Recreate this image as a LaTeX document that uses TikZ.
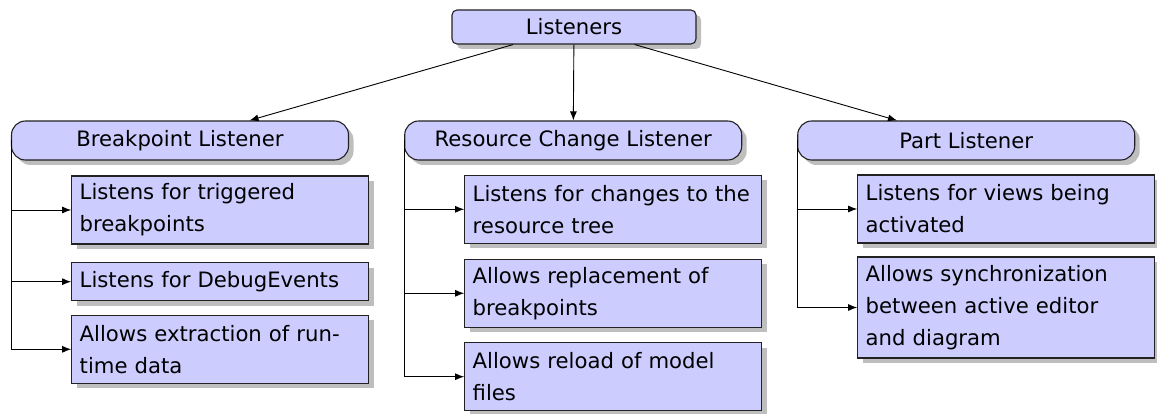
\documentclass[tikz,border=0pt]{standalone}
\usepackage{fontspec}
\setmainfont{DejaVu Sans}
\usetikzlibrary{shadows,arrows.meta}
\definecolor{boxfill}{HTML}{CCCCFF}
\definecolor{shadowgray}{HTML}{BEBEBE}
\definecolor{edgegray}{HTML}{222222}
\tikzset{
  boxshadow/.style={drop shadow={shadow xshift=5pt,shadow yshift=-5pt,fill=shadowgray,opacity=1}},
  boxtext/.style={font=\fontsize{21.2pt}{32pt}\selectfont},
  rootbox/.style={draw=edgegray,fill=boxfill,line width=1.1pt,rounded corners=5pt,boxshadow,
    minimum width=244pt,minimum height=34pt,inner sep=0pt,boxtext},
  groupbox/.style={draw=edgegray,fill=boxfill,line width=1.1pt,rounded corners=14pt,boxshadow,
    minimum width=337pt,minimum height=39pt,inner sep=0pt,boxtext},
  itembox/.style={draw=edgegray,fill=boxfill,line width=1.1pt,boxshadow,
    text width=281pt,inner xsep=8pt,inner ysep=0pt,align=left,boxtext},
  link/.style={-{Latex[length=9pt,width=7pt]},line width=0.9pt,black}
}
\begin{document}
\begin{tikzpicture}[x=1pt,y=-1pt]
\useasboundingbox (0,0) rectangle (1157,414);

% root and the three listener groups
\node[rootbox] (root) at (574,27) {Listeners};
\node[groupbox] (bp) at (180,140.5) {Breakpoint Listener};
\node[groupbox] (rc) at (573.2,140.5) {Resource Change Listener};
\node[groupbox] (pl) at (966.2,140.5) {Part Listener};

% Breakpoint Listener items
\node[itembox,minimum height=68pt] (bp1) at (220.2,210) {Listens for triggered\\breakpoints};
\node[itembox,minimum height=38pt] (bp2) at (220.2,281.7) {Listens for DebugEvents};
\node[itembox,minimum height=68pt] (bp3) at (220.2,349.3) {Allows extraction of run-\\time data};

% Resource Change Listener items
\node[itembox,minimum height=68pt] (rc1) at (613.2,209.3) {Listens for changes to the\\resource tree};
\node[itembox,minimum height=68pt] (rc2) at (613.2,293.3) {Allows replacement of\\breakpoints};
\node[itembox,minimum height=68pt] (rc3) at (613.2,376.7) {Allows reload of model\\files};

% Part Listener items
\node[itembox,minimum height=68pt] (pl1) at (1006.2,209) {Listens for views being\\activated};
\node[itembox,minimum height=101pt] (pl2) at (1006.2,307.5) {Allows synchronization\\between active editor\\and diagram};

% connectors
\draw[link] (root) -- (bp);
\draw[link] (root) -- (rc);
\draw[link] (root) -- (pl);

\draw[link] (bp.west) |- (bp1.west);
\draw[link] (bp.west) |- (bp2.west);
\draw[link] (bp.west) |- (bp3.west);

\draw[link] (rc.west) |- (rc1.west);
\draw[link] (rc.west) |- (rc2.west);
\draw[link] (rc.west) |- (rc3.west);

\draw[link] (pl.west) |- (pl1.west);
\draw[link] (pl.west) |- (pl2.west);
\end{tikzpicture}
\end{document}
